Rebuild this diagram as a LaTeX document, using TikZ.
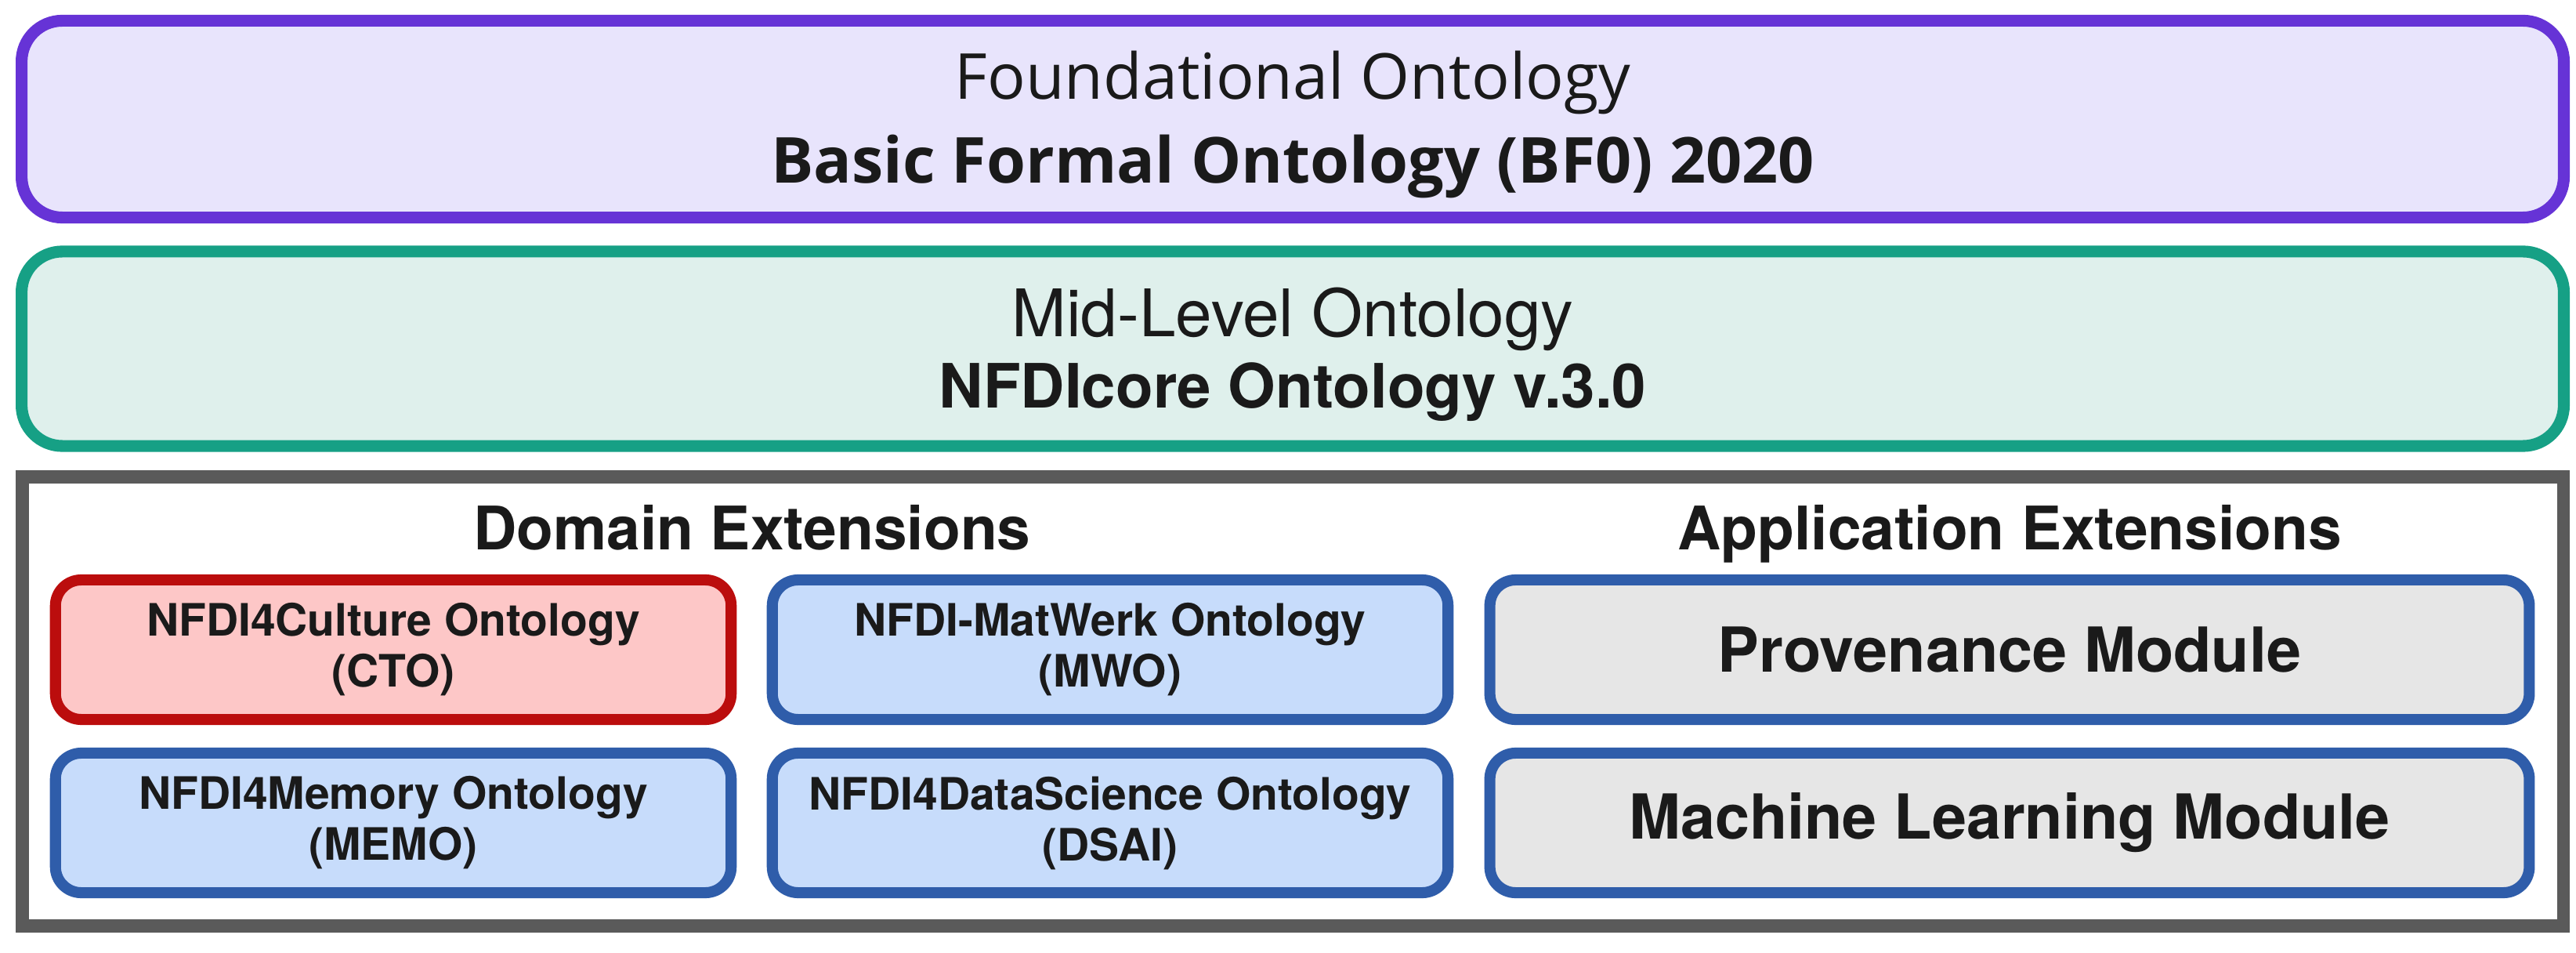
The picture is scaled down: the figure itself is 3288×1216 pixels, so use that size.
\documentclass[tikz,border=0pt]{standalone}
\usepackage{fontspec}
\setmainfont{Open Sans}
\newfontfamily\grot{TeX Gyre Heros}
\usepackage{xcolor}
\usepackage{tikz}

\definecolor{ink}{HTML}{1A1A1A}
\definecolor{bfoline}{HTML}{6633D6}
\definecolor{bfofill}{HTML}{E8E4FC}
\definecolor{coreline}{HTML}{16A085}
\definecolor{corefill}{HTML}{DFF0EC}
\definecolor{frameline}{HTML}{5A5A5A}
\definecolor{ctoline}{HTML}{BB0D0D}
\definecolor{ctofill}{HTML}{FDC7C7}
\definecolor{extline}{HTML}{2F5DAA}
\definecolor{extfill}{HTML}{C7DCFB}
\definecolor{appfill}{HTML}{E6E6E6}

\begin{document}
\begin{tikzpicture}[x=0.01cm,y=-0.01cm,
  layer/.style={draw, rounded corners=0.52cm, line width=4.3pt,
    minimum width=32.43cm},
  layertext/.style={align=center, text=ink},
  ext/.style={draw=extline, fill=extfill, rounded corners=0.33cm,
    line width=4pt, minimum width=8.62cm, minimum height=1.78cm,
    align=center, text=ink, font=\grot\bfseries\fontsize{16.2}{18.5}\selectfont},
  app/.style={ext, fill=appfill, minimum width=13.26cm,
    font=\grot\bfseries\fontsize{22.5}{27}\selectfont},
  heading/.style={anchor=base, text=ink, font=\grot\bfseries\fontsize{21.8}{26}\selectfont}]

  \useasboundingbox[fill=white] (0,0) rectangle (3288,1216);

  % the two upper layers:
  \node[layer, draw=bfoline, fill=bfofill, minimum height=2.51cm] (bfo) at (1650,152) {};
  \node[layertext, font=\fontsize{23}{30.7}\selectfont] (bfolabel)
    at ([yshift=-0.07cm]bfo.center)
    {Foundational Ontology\\\textbf{Basic Formal Ontology (BF0) 2020}};
  \node[layer, draw=coreline, fill=corefill, minimum height=2.48cm] (core) at (1650,445) {};
  \node[layertext, font=\grot\fontsize{22.2}{25.9}\selectfont] (corelabel)
    at ([yshift=-0.07cm]core.center)
    {{\fontsize{23.8}{25.9}\selectfont Mid-Level Ontology}\\\textbf{NFDIcore Ontology v.3.0}};

  % the extensions frame:
  \node[draw=frameline, fill=white, line width=4.8pt,
    minimum width=32.42cm, minimum height=5.73cm] (frame) at (1650,895) {};

  \node[heading] (domain) at (960,702) {Domain Extensions};
  \node[heading] (application) at (2565,702) {Application Extensions};

  \node[ext, draw=ctoline, fill=ctofill] (cto) at (502,829)
    {NFDI4Culture Ontology\\(CTO)};
  \node[ext] (mwo) at (1417,829) {NFDI-MatWerk Ontology\\(MWO)};
  \node[ext] (memo) at (502,1050) {NFDI4Memory Ontology\\(MEMO)};
  \node[ext] (dsai) at (1417,1050) {NFDI4DataScience Ontology\\(DSAI)};

  \node[app] (prov) at (2565,829) {Provenance Module};
  \node[app] (ml) at (2565,1050) {Machine Learning Module};

\end{tikzpicture}
\end{document}
